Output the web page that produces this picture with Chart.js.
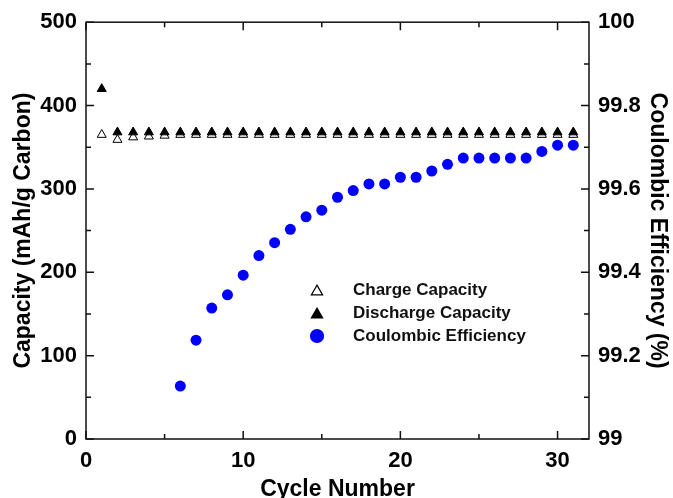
<!DOCTYPE html>
<html>
<head>
<meta charset="utf-8">
<script src="https://cdn.jsdelivr.net/npm/chart.js@4/dist/chart.umd.min.js"></script>
<style>
    html, body { margin: 0; padding: 0; background: #fff; }
    #wrap { width: 673px; height: 498px; }
</style>
</head>
<body>
<div id="wrap"><canvas id="chart" width="673" height="498"></canvas></div>
<script>
// cycle numbers for the capacity series
const cycles = [1, 2, 3, 4, 5, 6, 7, 8, 9, 10, 11, 12, 13, 14, 15, 16, 17, 18, 19, 20, 21, 22, 23, 24, 25, 26, 27, 28, 29, 30, 31];
const chargeCapacity = [365, 359, 362, 363, 364, 365, 365, 365, 365, 365, 365, 365, 365, 365, 365, 365, 365, 365, 365, 365, 365, 365, 365, 365, 365, 365, 365, 365, 365, 365, 365];
const dischargeCapacity = [420, 368, 368, 368, 368, 368, 368, 368, 368, 368, 368, 368, 368, 368, 368, 368, 368, 368, 368, 368, 368, 368, 368, 368, 368, 368, 368, 368, 368, 368, 368];

// coulombic efficiency only starts at cycle 6
const ceCycles = [6, 7, 8, 9, 10, 11, 12, 13, 14, 15, 16, 17, 18, 19, 20, 21, 22, 23, 24, 25, 26, 27, 28, 29, 30, 31];
const coulombicEfficiency = [99.127, 99.237, 99.314, 99.346, 99.393, 99.440, 99.471, 99.503, 99.533, 99.549, 99.580, 99.596, 99.612, 99.612, 99.628, 99.628, 99.643, 99.659, 99.674, 99.674, 99.674, 99.674, 99.674, 99.690, 99.705, 99.705];

// tick labels
const xTicks = [0, 10, 20, 30];
const capacityTicks = [0, 100, 200, 300, 400, 500];
const ceTicks = [99, 99.2, 99.4, 99.6, 99.8, 100];

const FONT = "'Liberation Sans', Arial, Helvetica, sans-serif";

const toPoints = (xs, ys) => xs.map((x, i) => ({ x: x, y: ys[i] }));
const minorOf = majors => majors.slice(1).map((v, i) => (v + majors[i]) / 2);

// axes box with inward ticks on all four sides
const frameTicks = {
    id: 'frameTicks',
    afterDraw(chart) {
        const { ctx, chartArea: a, scales } = chart;
        const MAJOR = 8, MINOR = 5;
        ctx.save();
        ctx.strokeStyle = '#111';
        ctx.lineWidth = 1.5;
        ctx.strokeRect(a.left, a.top, a.right - a.left, a.bottom - a.top);

        ctx.beginPath();
        const xMarks = (values, len) => values.forEach(v => {
            const px = scales.x.getPixelForValue(v);
            ctx.moveTo(px, a.bottom); ctx.lineTo(px, a.bottom - len);
            ctx.moveTo(px, a.top); ctx.lineTo(px, a.top + len);
        });
        xMarks(xTicks, MAJOR);
        xMarks(minorOf(xTicks), MINOR);

        const yMarks = (scale, values, len, fromRight) => values.forEach(v => {
            const py = scale.getPixelForValue(v);
            const x0 = fromRight ? a.right : a.left;
            ctx.moveTo(x0, py); ctx.lineTo(fromRight ? x0 - len : x0 + len, py);
        });
        yMarks(scales.y, capacityTicks, MAJOR, false);
        yMarks(scales.y, minorOf(capacityTicks), MINOR, false);
        yMarks(scales.y1, ceTicks, MAJOR, true);
        yMarks(scales.y1, minorOf(ceTicks), MINOR, true);
        ctx.stroke();
        ctx.restore();
    }
};

// legend drawn inside the plot area
const insideLegend = {
    id: 'insideLegend',
    afterDraw(chart) {
        const { ctx } = chart;
        const markerX = 317, textX = 353, firstY = 290, rowGap = 23;
        ctx.save();
        ctx.font = `bold 17px ${FONT}`;
        ctx.textBaseline = 'middle';
        ctx.textAlign = 'left';
        chart.data.datasets.forEach((ds, i) => {
            const y = firstY + i * rowGap;
            ctx.beginPath();
            if (ds.pointStyle === 'triangle') {
                const r = 6.5, cy = y + r / 4;
                for (let k = 0; k < 3; k++) {
                    const ang = k * 2 * Math.PI / 3;
                    const px = markerX + Math.sin(ang) * r, py = cy - Math.cos(ang) * r;
                    k === 0 ? ctx.moveTo(px, py) : ctx.lineTo(px, py);
                }
                ctx.closePath();
            } else {
                ctx.arc(markerX, y, 6.5, 0, Math.PI * 2);
            }
            ctx.fillStyle = ds.backgroundColor;
            ctx.fill();
            ctx.lineWidth = 1.2;
            ctx.strokeStyle = ds.borderColor;
            ctx.stroke();
            ctx.fillStyle = '#111';
            ctx.fillText(ds.label, textX, y);
        });
        ctx.restore();
    }
};

const tickFont = { family: FONT, size: 22, weight: 'bold' };
const titleFont = { family: FONT, size: 23, weight: 'bold' };

new Chart(document.getElementById('chart'), {
    type: 'scatter',
    data: {
        datasets: [
            {
                label: 'Charge Capacity',
                data: toPoints(cycles, chargeCapacity),
                pointStyle: 'triangle',
                pointRadius: 5.2,
                backgroundColor: '#ffffff',
                borderColor: '#000000',
                borderWidth: 1,
                yAxisID: 'y',
                order: 3
            },
            {
                label: 'Discharge Capacity',
                data: toPoints(cycles, dischargeCapacity),
                pointStyle: 'triangle',
                pointRadius: 5.2,
                backgroundColor: '#000000',
                borderColor: '#000000',
                borderWidth: 1,
                yAxisID: 'y',
                order: 2
            },
            {
                label: 'Coulombic Efficiency',
                data: toPoints(ceCycles, coulombicEfficiency),
                pointStyle: 'circle',
                pointRadius: 5.5,
                backgroundColor: '#0000ff',
                borderColor: '#0000ff',
                borderWidth: 0,
                yAxisID: 'y1',
                order: 1
            }
        ]
    },
    options: {
        responsive: false,
        animation: false,
        layout: { padding: { top: 22, left: 0, right: 0, bottom: 0 } },
        plugins: { legend: { display: false }, tooltip: { enabled: false } },
        scales: {
            x: {
                type: 'linear',
                min: 0,
                max: 32,
                grid: { display: false, drawTicks: false },
                border: { display: false },
                afterBuildTicks: s => { s.ticks = xTicks.map(v => ({ value: v })); },
                afterFit: s => { s.height = 59; },
                ticks: { font: tickFont, color: '#000', padding: 9, maxRotation: 0 },
                title: { display: true, text: 'Cycle Number', font: { ...titleFont, lineHeight: 1 }, color: '#000', padding: { top: 0, bottom: -3 } }
            },
            y: {
                type: 'linear',
                position: 'left',
                min: 0,
                max: 500,
                grid: { display: false, drawTicks: false },
                border: { display: false },
                afterBuildTicks: s => { s.ticks = capacityTicks.map(v => ({ value: v })); },
                afterFit: s => { s.width = 86; },
                ticks: { font: tickFont, color: '#000', padding: 9 },
                title: { display: true, text: 'Capacity (mAh/g Carbon)', font: titleFont, color: '#000', padding: { top: 10, bottom: 0 } }
            },
            y1: {
                type: 'linear',
                position: 'right',
                min: 99,
                max: 100,
                grid: { display: false, drawTicks: false },
                border: { display: false },
                afterBuildTicks: s => { s.ticks = ceTicks.map(v => ({ value: v })); },
                afterFit: s => { s.width = 84; },
                ticks: { font: tickFont, color: '#000', padding: 9, callback: v => String(+v.toFixed(1)) },
                title: { display: true, text: 'Coulombic Efficiency (%)', font: titleFont, color: '#000', padding: { top: 2, bottom: 0 } }
            }
        }
    },
    plugins: [frameTicks, insideLegend]
});
</script>
</body>
</html>
